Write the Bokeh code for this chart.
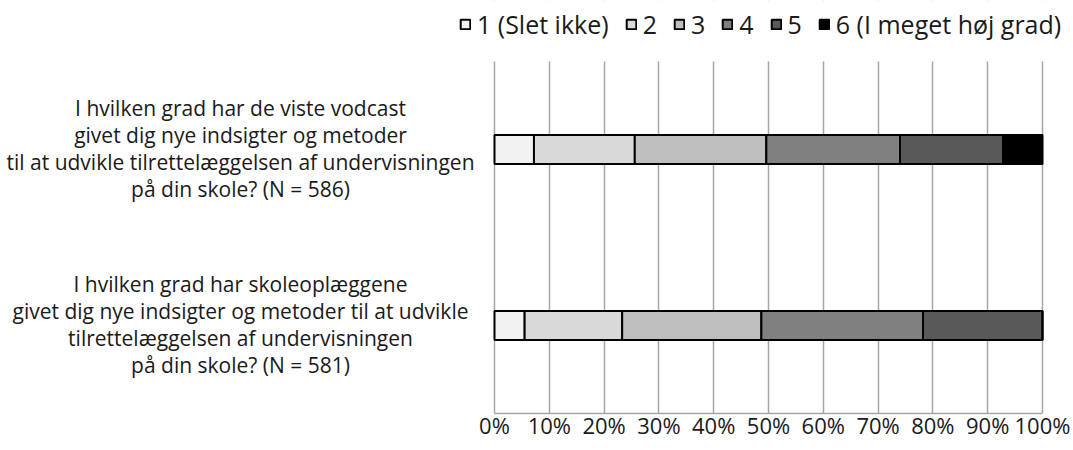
from bokeh.plotting import figure
from bokeh.models import (ColumnDataSource, Range1d, FixedTicker, PrintfTickFormatter,
                          Legend, LegendItem, Label, BoxAnnotation)
from bokeh.embed import file_html
from bokeh.resources import INLINE

# ---- data ----
question_lines = [
    ["I hvilken grad har de viste vodcast",
     "givet dig nye indsigter og metoder",
     "til at udvikle tilrettelæggelsen af undervisningen",
     "på din skole? (N = 586)"],
    ["I hvilken grad har skoleoplæggene",
     "givet dig nye indsigter og metoder til at udvikle",
     "tilrettelæggelsen af undervisningen",
     "på din skole? (N = 581)"],
]
categories = ["1 (Slet ikke)", "2", "3", "4", "5", "6 (I meget høj grad)"]
vals_1 = [7.2, 5.5]
vals_2 = [18.4, 17.8]
vals_3 = [24.0, 25.4]
vals_4 = [24.4, 29.5]
vals_5 = [18.8, 21.8]
vals_6 = [7.2, 0.0]
y_pos = [1.5, 0.5]
colors = ["#f2f2f2", "#d9d9d9", "#bfbfbf", "#808080", "#595959", "#000000"]
ticks = list(range(0, 101, 10))

FONT = "Open Sans"
TXT = "#1a1a1a"
GRID = "#a6a6a6"

src = ColumnDataSource(dict(y=y_pos, c1=vals_1, c2=vals_2, c3=vals_3,
                            c4=vals_4, c5=vals_5, c6=vals_6))
stackers = ["c1", "c2", "c3", "c4", "c5", "c6"]

# frame spans the label and legend areas too (0% sits at 494px, 100% at 1042px)
p = figure(width=1073, height=450, output_backend="svg", toolbar_location=None,
           x_range=Range1d(-90.15, 105.66), y_range=Range1d(0, 2.347),
           min_border_left=0, min_border_right=0, min_border_top=0,
           min_border_bottom=37)
p.outline_line_color = None
p.background_fill_color = "white"

rs = p.hbar_stack(stackers, y="y", height=0.165, color=colors, line_color="black",
                  line_width=2, source=src)

p.yaxis.visible = False
p.ygrid.visible = False
p.xgrid.ticker = FixedTicker(ticks=ticks)
p.xgrid.grid_line_color = GRID
p.xgrid.grid_line_width = 1.5
p.xaxis.ticker = FixedTicker(ticks=ticks)
p.xaxis.bounds = (0, 100)
p.xaxis.formatter = PrintfTickFormatter(format="%d%%")
p.xaxis.axis_line_color = GRID
p.xaxis.axis_line_width = 1.5
p.xaxis.major_tick_line_color = None
p.xaxis.minor_tick_line_color = None
p.xaxis.major_tick_out = 0
p.xaxis.major_tick_in = 0
p.xaxis.major_label_standoff = -4
p.xaxis.major_label_text_font = FONT
p.xaxis.major_label_text_font_size = "22px"
p.xaxis.major_label_text_color = TXT

# white area above the plot region (grid lines start below the legend)
p.add_layout(BoxAnnotation(bottom=2.0, fill_color="white", fill_alpha=1.0,
                           line_color=None))

# question labels, one Label per line
line_offsets = [41.5, 14.5, -12.5, -39.5]
for q, yv in zip(question_lines, y_pos):
    for line, off in zip(q, line_offsets):
        p.add_layout(Label(x=240, x_units="screen", y=yv, y_offset=off, text=line,
                           text_align="center", text_baseline="middle",
                           text_font=FONT, text_font_size="21px", text_color=TXT))

legend = Legend(items=[LegendItem(label=c, renderers=[r]) for c, r in zip(categories, rs)],
                orientation="horizontal", location=(459, 372),
                border_line_color=None, background_fill_alpha=0,
                padding=0, margin=0, spacing=16, label_standoff=6,
                glyph_width=12, glyph_height=12, label_width=0,
                label_text_font=FONT, label_text_font_size="25px",
                label_text_color=TXT)
p.add_layout(legend, "center")

open("out.html", "w").write(file_html(p, INLINE))
